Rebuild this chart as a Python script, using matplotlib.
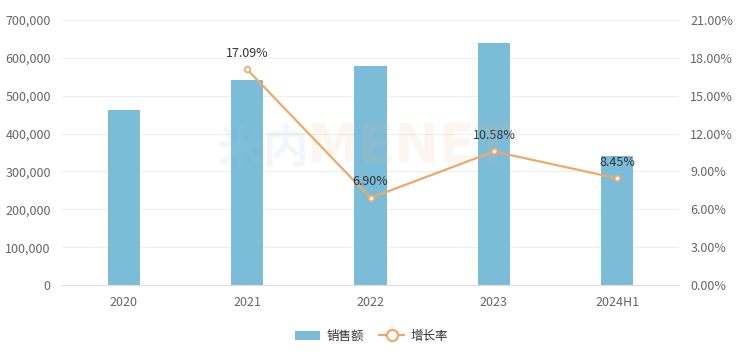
import numpy as np
import matplotlib.pyplot as plt
from matplotlib.lines import Line2D
from matplotlib.patches import Patch
from matplotlib.ticker import FuncFormatter

plt.rcParams['font.family'] = ['Noto Sans CJK SC', 'DejaVu Sans']

# data
years = ["2020", "2021", "2022", "2023", "2024H1"]
sales = [462000, 541000, 578000, 639000, 341000]
growth = [None, 17.09, 6.90, 10.58, 8.45]

bar_color = "#7BBDD9"
line_color = "#F0A868"
text_color = "#666666"

fig = plt.figure(figsize=(7.36, 3.52), dpi=100)
ax = fig.add_axes([0.0842, 0.1903, 0.8384, 0.7529])
ax2 = ax.twinx()

x = np.arange(len(years))
ax.bar(x, sales, width=0.26, color=bar_color, zorder=2)
ax.set_xlim(-0.5, len(years) - 0.5)
ax.set_ylim(0, 700000)
ax.set_yticks(np.arange(0, 700001, 100000))
ax.yaxis.set_major_formatter(FuncFormatter(lambda v, p: "{:,.0f}".format(v)))
ax.set_xticks(x)
ax.set_xticklabels(years)
ax.grid(axis="y", color="#EEEEEE", linewidth=0.8, zorder=0)
ax.set_axisbelow(True)

gx = [i for i, g in enumerate(growth) if g is not None]
gy = [g for g in growth if g is not None]
ax2.plot(gx, gy, color=line_color, linewidth=1.6, marker="o", markersize=4,
         markerfacecolor="white", markeredgecolor=line_color, markeredgewidth=1.2, zorder=3)
for xi, yi in zip(gx, gy):
    ax2.annotate("{:.2f}%".format(yi), (xi, yi), xytext=(0, 7), textcoords="offset points",
                 ha="center", va="bottom", fontsize=9, color="#333333")
ax2.set_ylim(0, 21)
ax2.set_yticks(np.arange(0, 21.01, 3))
ax2.yaxis.set_major_formatter(FuncFormatter(lambda v, p: "{:.2f}%".format(v)))

for a in (ax, ax2):
    for s in a.spines.values():
        s.set_visible(False)
    a.tick_params(length=0, labelsize=9, colors=text_color, pad=8)
ax.spines["bottom"].set_visible(True)
ax.spines["bottom"].set_color("#DDDDDD")

# watermark
fig.text(218 / 736, 1 - 173 / 352, "米内", fontsize=33, fontweight="bold", color="#9CC9DD",
         alpha=0.15, ha="left", va="bottom")
fig.text(306 / 736, 1 - 173 / 352, "MENET", fontsize=38, fontweight="bold", color="#F5B88A",
         alpha=0.12, ha="left", va="bottom", family="DejaVu Sans")

handles = [Patch(facecolor=bar_color, edgecolor="none"),
           Line2D([0], [0], color=line_color, linewidth=1.6, marker="o", markersize=8,
                  markerfacecolor="white", markeredgecolor=line_color, markeredgewidth=1.6)]
fig.legend(handles, ["销售额", "增长率"], loc="center", bbox_to_anchor=(0.505, 0.045), ncol=2,
           frameon=False, fontsize=9, labelcolor="#333333", handlelength=2.0, columnspacing=1.2,
           handletextpad=0.5)

fig.savefig("out.png", dpi=100)
